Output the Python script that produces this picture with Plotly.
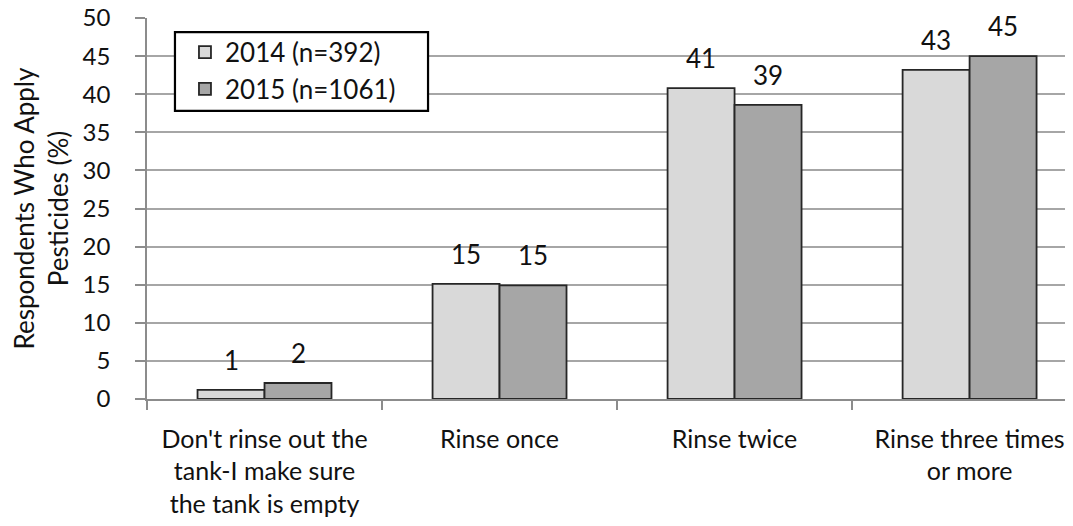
import plotly.graph_objects as go

categories = ["Don't rinse out the<br>tank-I make sure<br>the tank is empty",
              "Rinse once", "Rinse twice", "Rinse three times<br>or more"]
series_names = ["2014 (n=392)", "2015 (n=1061)"]
values_2014 = [1.2, 15.1, 40.8, 43.2]
values_2015 = [2.1, 14.9, 38.6, 45.0]
y_ticks = [0, 5, 10, 15, 20, 25, 30, 35, 40, 45, 50]

FONT = "Lato"
colors = ["#d9d9d9", "#a6a6a6"]

fig = go.Figure()
for name, vals, col in zip(series_names, [values_2014, values_2015], colors):
    fig.add_trace(go.Bar(
        x=categories, y=vals, name=name,
        marker=dict(color=col, line=dict(color="#262626", width=1.8)),
    ))

bar_px = 67
for i, (name, vals) in enumerate(zip(series_names, [values_2014, values_2015])):
    shift = (-0.5 + i) * bar_px
    for c, v in zip(categories, vals):
        fig.add_annotation(x=c, y=v, text=str(round(v)), showarrow=False,
                           xref="x", yref="y", yanchor="bottom", xshift=shift, yshift=12,
                           font=dict(family=FONT, size=26, color="#111"))

# legend frame
fig.add_shape(type="rect", xref="paper", yref="paper",
              x0=0.0302, x1=0.3035, y0=0.756, y1=0.963,
              line=dict(color="black", width=2.2), fillcolor="white", layer="above")

fig.update_layout(
    width=1065, height=518,
    margin=dict(l=139, r=0, t=10, b=127, autoexpand=False),
    paper_bgcolor="white", plot_bgcolor="white",
    barmode="group", bargap=0.43, bargroupgap=0,
    font=dict(family=FONT, size=26, color="#111"),
    showlegend=True,
    legend=dict(x=0.041, y=0.972, xanchor="left", yanchor="top",
                borderwidth=0, bgcolor="rgba(0,0,0,0)",
                font=dict(family=FONT, size=26, color="#111"),
                tracegroupgap=0, itemwidth=30),
    xaxis=dict(range=[-0.5, 3.44], showline=True, linecolor="#8c8c8c", linewidth=1.5,
               ticks="outside", tickson="boundaries", ticklen=9, tickcolor="#8c8c8c",
               tickwidth=1.5, ticklabelstandoff=17, automargin=False,
               tickfont=dict(family=FONT, size=25, color="#111"), showgrid=False),
    yaxis=dict(range=[0, 50], tickvals=y_ticks, showline=True, linecolor="#8c8c8c",
               linewidth=1.5, ticks="outside", ticklen=10, tickcolor="#8c8c8c",
               tickwidth=1.5, showgrid=True, gridcolor="#a6a6a6", gridwidth=1.5,
               ticklabelstandoff=20, ticklabeloverflow="allow", automargin=False,
               tickfont=dict(family=FONT, size=24, color="#111"),
               title=dict(text="Respondents Who Apply<br>Pesticides (%)",
                          font=dict(family=FONT, size=26, color="#111"), standoff=12),
               zeroline=False),
)

fig.write_html("out.html")
